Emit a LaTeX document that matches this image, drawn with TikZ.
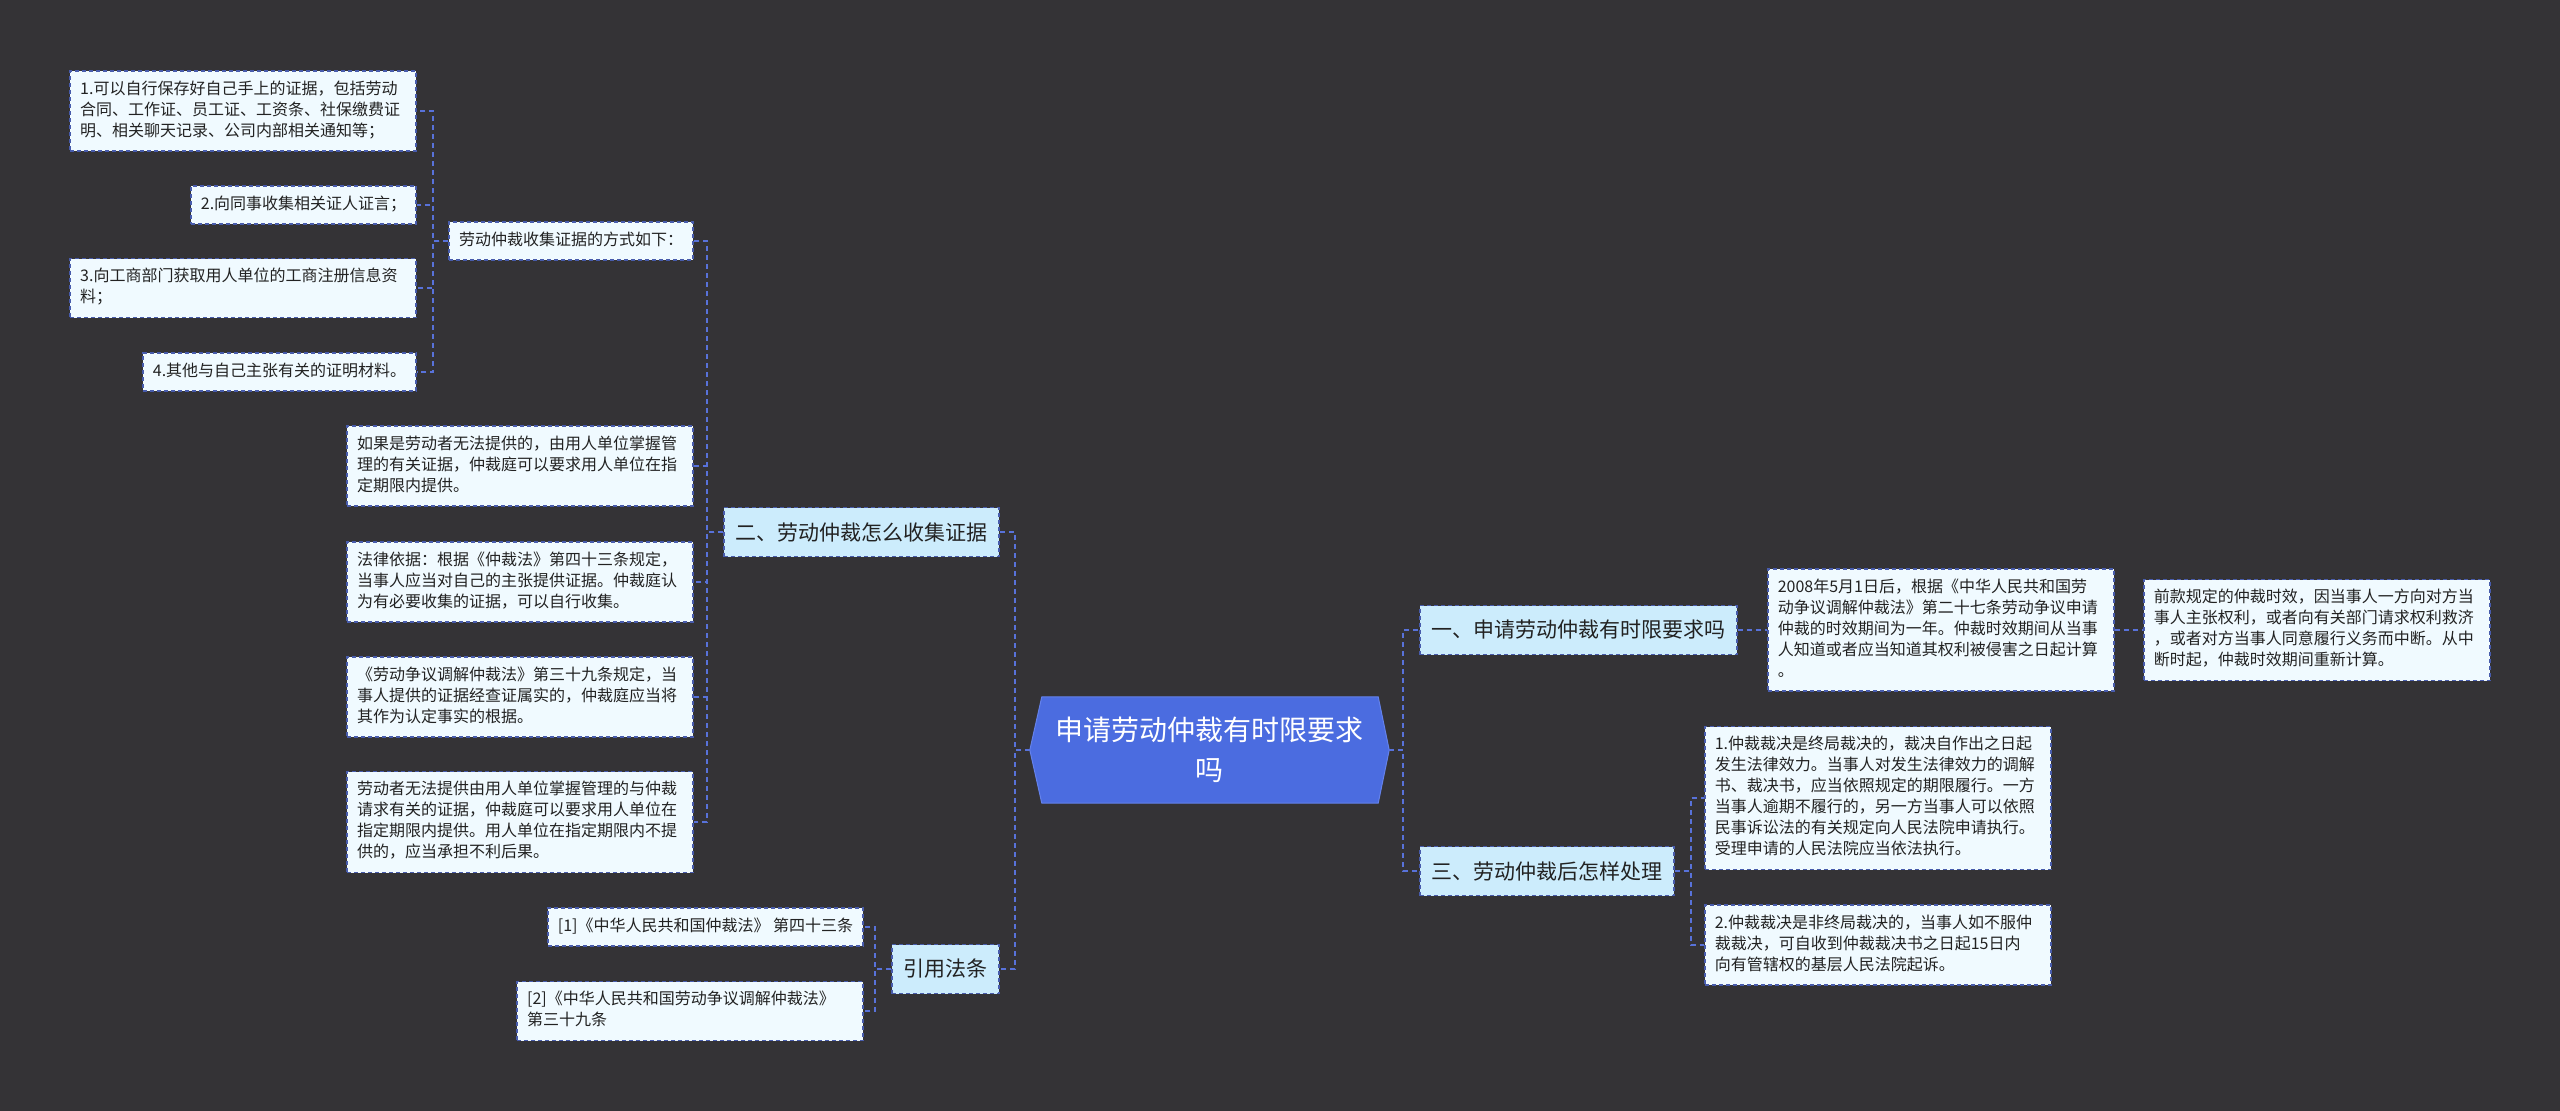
\documentclass[tikz,border=0pt]{standalone}
\usepackage{fontspec}
\setmainfont{Noto Sans CJK SC}
\usetikzlibrary{calc,backgrounds}
\definecolor{bgc}{RGB}{52,51,54}
\definecolor{leaff}{RGB}{240,250,255}
\definecolor{topf}{RGB}{204,236,252}
\definecolor{bordc}{RGB}{72,92,172}
\definecolor{linkc}{RGB}{88,114,218}
\definecolor{cfill}{RGB}{75,108,224}
\definecolor{cedge}{RGB}{100,130,235}
\definecolor{txtc}{RGB}{34,34,34}
\tikzset{
  leafbox/.style={draw=bordc, fill=leaff, line width=1.6pt, dash pattern=on 4pt off 3pt,
    text=txtc, font=\fontsize{16}{21}\selectfont, inner xsep=10pt, inner ysep=8.5pt,
    align=left, execute at begin node=\strut, execute at end node=\strut},
  wrapbox/.style={leafbox, text width=326pt},
  topicbox/.style={draw=bordc, fill=topf, line width=1.6pt, dash pattern=on 4pt off 3pt,
    text=txtc, font=\fontsize{21}{28}\selectfont, inner xsep=11.5pt, inner ysep=0pt,
    minimum height=49pt},
  link/.style={draw=linkc, line width=2pt, dash pattern=on 5pt off 4pt},
}
\begin{document}
\begin{tikzpicture}[x=1pt,y=-1pt]
\begin{scope}[on background layer]
  \fill[bgc] (0,0) rectangle (2560,1111);
\end{scope}
\useasboundingbox (0,0) rectangle (2560,1111);

% centre
\node (c) [minimum width=359pt, minimum height=106pt, inner sep=0pt, text=white,
  font=\fontsize{28}{40}\selectfont, align=center] at (1209.5,750)
  {申请劳动仲裁有时限要求\\吗};
\begin{scope}[on background layer]
  \filldraw[fill=cfill, draw=cedge, line width=1pt]
    ($(c.north west)+(12,0)$) -- ($(c.north east)+(-11,0)$) -- (c.east)
    -- ($(c.south east)+(-11,0)$) -- ($(c.south west)+(12,0)$) -- (c.west) -- cycle;
\end{scope}

% left branch: 二
\node[topicbox, anchor=east] (L2) at (1000,532) {二、劳动仲裁怎么收集证据};
\node[leafbox, anchor=east] (m1) at (694,241) {劳动仲裁收集证据的方式如下：};
\node[wrapbox, anchor=east] (b1) at (417,111) {1.可以自行保存好自己手上的证据，包括劳动\\合同、工作证、员工证、工资条、社保缴费证\\明、相关聊天记录、公司内部相关通知等；};
\node[leafbox, anchor=east] (b2) at (417,205) {2.向同事收集相关证人证言；};
\node[wrapbox, anchor=east] (b3) at (417,288) {3.向工商部门获取用人单位的工商注册信息资\\料；};
\node[leafbox, anchor=east] (b4) at (417,372) {4.其他与自己主张有关的证明材料。};
\node[wrapbox, anchor=east] (ea) at (694,466) {如果是劳动者无法提供的，由用人单位掌握管\\理的有关证据，仲裁庭可以要求用人单位在指\\定期限内提供。};
\node[wrapbox, anchor=east] (eb) at (694,582) {法律依据：根据《仲裁法》第四十三条规定，\\当事人应当对自己的主张提供证据。仲裁庭认\\为有必要收集的证据，可以自行收集。};
\node[wrapbox, anchor=east] (ec) at (694,697) {《劳动争议调解仲裁法》第三十九条规定，当\\事人提供的证据经查证属实的，仲裁庭应当将\\其作为认定事实的根据。};
\node[wrapbox, anchor=east] (ed) at (694,822) {劳动者无法提供由用人单位掌握管理的与仲裁\\请求有关的证据，仲裁庭可以要求用人单位在\\指定期限内提供。用人单位在指定期限内不提\\供的，应当承担不利后果。};

% left branch: 引用法条
\node[topicbox, anchor=east] (L4) at (1000,969) {引用法条};
\node[leafbox, anchor=east] (r1) at (864,927) {[1]《中华人民共和国仲裁法》 第四十三条};
\node[wrapbox, anchor=east] (r2) at (864,1011) {[2]《中华人民共和国劳动争议调解仲裁法》\\第三十九条};

% right branch: 一
\node[topicbox, anchor=west] (L1) at (1419,630) {一、申请劳动仲裁有时限要求吗};
\node[wrapbox, anchor=west] (R1) at (1767,630) {2008年5月1日后，根据《中华人民共和国劳\\动争议调解仲裁法》第二十七条劳动争议申请\\仲裁的时效期间为一年。仲裁时效期间从当事\\人知道或者应当知道其权利被侵害之日起计算\\。};
\node[wrapbox, anchor=west] (R2) at (2143,630) {前款规定的仲裁时效，因当事人一方向对方当\\事人主张权利，或者向有关部门请求权利救济\\，或者对方当事人同意履行义务而中断。从中\\断时起，仲裁时效期间重新计算。};

% right branch: 三
\node[topicbox, anchor=west] (L3) at (1419,871) {三、劳动仲裁后怎样处理};
\node[wrapbox, anchor=west] (R3) at (1704,798) {1.仲裁裁决是终局裁决的，裁决自作出之日起\\发生法律效力。当事人对发生法律效力的调解\\书、裁决书，应当依照规定的期限履行。一方\\当事人逾期不履行的，另一方当事人可以依照\\民事诉讼法的有关规定向人民法院申请执行。\\受理申请的人民法院应当依法执行。};
\node[wrapbox, anchor=west] (R4) at (1704,945) {2.仲裁裁决是非终局裁决的，当事人如不服仲\\裁裁决，可自收到仲裁裁决书之日起15日内\\向有管辖权的基层人民法院起诉。};

% connectors
\foreach \ch in {L2,L4} \draw[link] (c.west) -- ++(-15,0) |- (\ch.east);
\foreach \ch in {L1,L3} \draw[link] (c.east) -- ++(14,0) |- (\ch.west);
\foreach \ch in {m1,ea,eb,ec,ed} \draw[link] (L2.west) -- ++(-16,0) |- (\ch.east);
\foreach \ch in {b1,b2,b3,b4} \draw[link] (m1.west) -- ++(-15,0) |- (\ch.east);
\foreach \ch in {r1,r2} \draw[link] (L4.west) -- ++(-16,0) |- (\ch.east);
\draw[link] (L1.east) -- (R1.west);
\draw[link] (R1.east) -- (R2.west);
\foreach \ch in {R3,R4} \draw[link] (L3.east) -- ++(16,0) |- (\ch.west);
\end{tikzpicture}
\end{document}
